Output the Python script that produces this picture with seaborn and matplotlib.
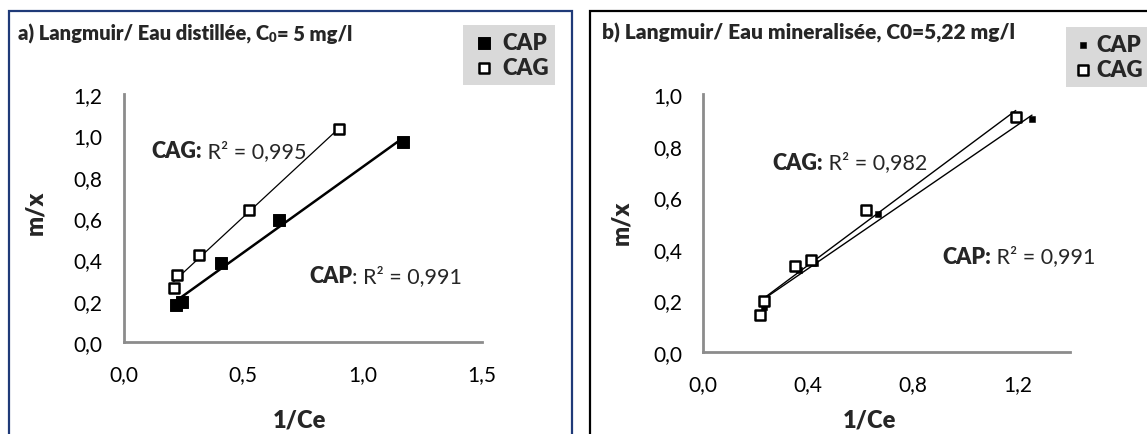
import matplotlib
matplotlib.use("Agg")
import matplotlib.pyplot as plt
from matplotlib.patches import Rectangle
from matplotlib.font_manager import FontProperties
import seaborn as sns

# panel a) eau distillée
a_cap_x = [0.218, 0.245, 0.407, 0.651, 1.168]
a_cap_y = [0.181, 0.194, 0.383, 0.590, 0.966]
a_cag_x = [0.210, 0.223, 0.314, 0.527, 0.902]
a_cag_y = [0.259, 0.325, 0.419, 0.637, 1.030]

# panel b) eau minéralisée
b_cap_x = [0.234, 0.366, 0.427, 0.669, 1.255]
b_cap_y = [0.173, 0.318, 0.344, 0.536, 0.904]
b_cag_x = [0.217, 0.232, 0.350, 0.413, 0.622, 1.193]
b_cag_y = [0.144, 0.196, 0.332, 0.356, 0.551, 0.910]

a_xticks = [0.0, 0.5, 1.0, 1.5]
a_yticks = [0.0, 0.2, 0.4, 0.6, 0.8, 1.0, 1.2]
b_xticks = [0.0, 0.4, 0.8, 1.2]
b_yticks = [0.0, 0.2, 0.4, 0.6, 0.8, 1.0]

W, H = 1147, 435

sns.set_style("white")
plt.rcParams["font.family"] = ["Lato", "DejaVu Sans"]


def fx(px):
    return px / W


def fy(py):
    return 1 - py / H


def comma(v):
    return f"{v:.1f}".replace(".", ",")


fig = plt.figure(figsize=(W / 100, H / 100), dpi=100)
renderer = fig.canvas.get_renderer()


def rich_text(x, y, parts, size):
    # parts: (text, weight, scale, dy_px)
    cur = x
    for s, weight, scale, dy in parts:
        t = fig.text(fx(cur), fy(y + dy), s, fontsize=size * scale,
                     fontweight=weight, ha="left", va="center")
        cur = t.get_window_extent(renderer).x1


# chart frames
fig.add_artist(Rectangle((fx(9), fy(470)), fx(571.5 - 9), 470 / H - 12 / H,
                         transform=fig.transFigure, fill=False,
                         edgecolor="#1f3a78", linewidth=1.6))
fig.add_artist(Rectangle((fx(590), fy(470)), fx(1200 - 590), 470 / H - 12 / H,
                         transform=fig.transFigure, fill=False,
                         edgecolor="black", linewidth=1.6))

ax_a = fig.add_axes([fx(123.5), fy(343), fx(482 - 123.5), (343 - 95) / H])
ax_b = fig.add_axes([fx(703), fy(353), fx(1070 - 703), (353 - 95) / H])


def style_axis(ax, xticks, yticks, xmax, ymax):
    ax.set_xlim(0, xmax)
    ax.set_ylim(0, ymax)
    ax.set_xticks(xticks)
    ax.set_yticks(yticks)
    ax.set_xticklabels([comma(t) for t in xticks], fontsize=15)
    ax.set_yticklabels([comma(t) for t in yticks], fontsize=15)
    for s in ["top", "right"]:
        ax.spines[s].set_visible(False)
    for s in ["left", "bottom"]:
        ax.spines[s].set_color("#8c8c8c")
        ax.spines[s].set_linewidth(2.0)
    ax.tick_params(axis="both", direction="in", length=4, width=2.0,
                   color="#8c8c8c", labelcolor="black")
    ax.tick_params(axis="y", pad=15)
    ax.tick_params(axis="x", pad=16)
    ax.patch.set_alpha(0)


# ---- panel a
sns.scatterplot(x=a_cap_x, y=a_cap_y, ax=ax_a, marker="s", s=70,
                color="black", edgecolor="black", label="CAP", zorder=3)
sns.scatterplot(x=a_cag_x, y=a_cag_y, ax=ax_a, marker="s", s=50,
                facecolor="white", edgecolor="black", linewidth=1.8,
                label="CAG", zorder=3)
sns.regplot(x=a_cap_x, y=a_cap_y, ax=ax_a, scatter=False, ci=None,
            line_kws={"color": "black", "linewidth": 1.8})
sns.regplot(x=a_cag_x, y=a_cag_y, ax=ax_a, scatter=False, ci=None,
            line_kws={"color": "black", "linewidth": 0.9})
style_axis(ax_a, a_xticks, a_yticks, 1.5, 1.2)

# ---- panel b
sns.scatterplot(x=b_cap_x, y=b_cap_y, ax=ax_b, marker="s", s=24,
                color="black", edgecolor="black", label="CAP", zorder=3)
sns.scatterplot(x=b_cag_x, y=b_cag_y, ax=ax_b, marker="s", s=55,
                facecolor="white", edgecolor="black", linewidth=1.8,
                label="CAG", zorder=3)
sns.regplot(x=b_cap_x, y=b_cap_y, ax=ax_b, scatter=False, ci=None,
            line_kws={"color": "black", "linewidth": 1.0})
sns.regplot(x=b_cag_x, y=b_cag_y, ax=ax_b, scatter=False, ci=None,
            line_kws={"color": "black", "linewidth": 1.0})
style_axis(ax_b, b_xticks, b_yticks, 1.4, 1.0)

# axis labels
for ax, (yl_x, yl_y, xl_x) in zip([ax_a, ax_b],
                                  [(35, 213, 299), (621, 223, 869)]):
    ax.set_xlabel("1/Ce", fontsize=17, fontweight="heavy")
    ax.set_ylabel("m/x", fontsize=17, fontweight="heavy")
    ax.xaxis.set_label_coords(fx(xl_x), fy(421), transform=fig.transFigure)
    ax.yaxis.set_label_coords(fx(yl_x), fy(yl_y), transform=fig.transFigure)
    ax.xaxis.label.set_va("center")
    ax.yaxis.label.set_va("center")

# titles
rich_text(18, 34, [("a) Langmuir/ Eau distillée, C", "heavy", 1, 0),
                   ("0", "heavy", 0.65, 4),
                   ("= 5 mg/l", "heavy", 1, 0)], 14.5)
rich_text(602, 33, [("b) Langmuir/ Eau mineralisée, C0=5,22 mg/l",
                     "heavy", 1, 0)], 15)

# R² annotations
rich_text(151, 152, [("CAG:", "heavy", 1, 0), (" R² = 0,995", "normal", 1, 0)], 15.5)
rich_text(309, 277, [("CAP", "heavy", 1, 0), (": R² = 0,991", "normal", 1, 0)], 15.5)
rich_text(772, 163, [("CAG:", "heavy", 1, 0), (" R² = 0,982", "normal", 1, 0)], 15.5)
rich_text(942, 257, [("CAP:", "heavy", 1, 0), (" R² = 0,991", "normal", 1, 0)], 15.5)

# legends
leg_font = FontProperties(family=["Lato", "DejaVu Sans"], weight="heavy", size=16)
for ax, (lx, ly, hl) in zip([ax_a, ax_b], [(463, 26, 1.3), (1066, 28, 0.9)]):
    leg = ax.legend(loc="upper left", bbox_to_anchor=(fx(lx), fy(ly)),
                    bbox_transform=fig.transFigure, frameon=True,
                    fancybox=False, facecolor="#d9d9d9", edgecolor="none",
                    framealpha=1, prop=leg_font,
                    handletextpad=0.15, borderpad=0.3, labelspacing=0.2,
                    handlelength=hl, borderaxespad=0)

fig.savefig("out.png", dpi=100)
